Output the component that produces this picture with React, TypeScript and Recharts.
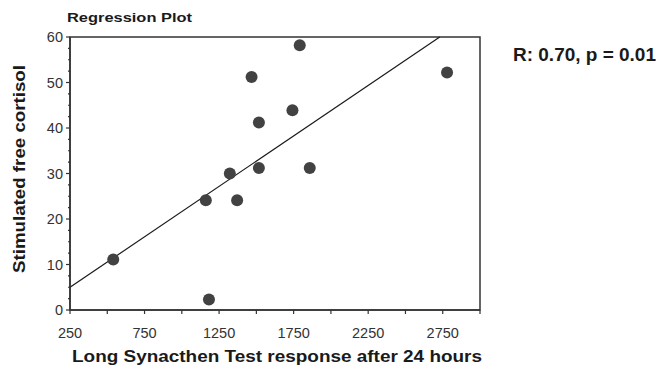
import { ScatterChart, Scatter, XAxis, YAxis, ReferenceLine, ReferenceArea } from 'recharts';

// Long Synacthen Test response (x) vs stimulated free cortisol (y)
const lstResponse = [540, 1182, 1161, 1371, 1322, 1517, 1517, 1468, 1742, 1791, 1858, 2779];
const freeCortisol = [11.1, 2.3, 24.1, 24.1, 30.0, 31.2, 41.2, 51.2, 43.9, 58.2, 31.2, 52.2];

// regression fit end points
const fitX = [250, 2730];
const fitY = [5, 60];

const xDomain = [250, 3000];
const yDomain = [0, 60];
const xTicks = [250, 500, 750, 1000, 1250, 1500, 1750, 2000, 2250, 2500, 2750, 3000];
const xLabelled = [250, 750, 1250, 1750, 2250, 2750];
const yTicks = [
  0, 2.5, 5, 7.5, 10, 12.5, 15, 17.5, 20, 22.5, 25, 27.5, 30,
  32.5, 35, 37.5, 40, 42.5, 45, 47.5, 50, 52.5, 55, 57.5, 60,
];

const points = lstResponse.map((x, i) => ({ x, y: freeCortisol[i] }));

const AXIS = '#333';
const FONT = '"Liberation Sans", Arial, sans-serif';

function XTick({ x, y, payload, side }: any) {
  const v = payload.value;
  const dir = side === 'top' ? -1 : 1;
  return (
    <g>
      <line x1={x} y1={y} x2={x} y2={y + dir * 4} stroke={AXIS} strokeWidth={1.2} />
      {side === 'bottom' && xLabelled.includes(v) && (
        <text x={x} y={y + 28} textAnchor="middle" fontSize={14.5} fill="#333" fontFamily={FONT}>
          {v}
        </text>
      )}
    </g>
  );
}

function YTick({ x, y, payload, side }: any) {
  const v = payload.value;
  const major = v % 10 === 0;
  const dir = side === 'left' ? -1 : 1;
  return (
    <g>
      <line x1={x} y1={y} x2={x + dir * (major ? 4 : 2)} y2={y} stroke={AXIS} strokeWidth={1.2} />
      {side === 'left' && major && (
        <text x={x - 7} y={y} dy="0.36em" textAnchor="end" fontSize={14.5} fill="#333" fontFamily={FONT}>
          {v}
        </text>
      )}
    </g>
  );
}

export default function App() {
  const axisLine = { stroke: AXIS, strokeWidth: 1.5 };
  return (
    <div style={{ position: 'absolute', left: 0, top: 0, width: 656, height: 369, background: '#fff' }}>
      <ScatterChart width={656} height={369} margin={{ top: 37, right: 176, bottom: 0, left: 0 }}>
        <XAxis
          xAxisId="b"
          type="number"
          dataKey="x"
          domain={xDomain}
          ticks={xTicks}
          orientation="bottom"
          height={59}
          stroke={AXIS}
          tickLine={false}
          tickSize={0}
          tickMargin={0}
          axisLine={axisLine}
          tick={<XTick side="bottom" />}
          interval={0}
        />
        <XAxis
          xAxisId="t"
          type="number"
          domain={xDomain}
          ticks={xTicks}
          orientation="top"
          height={0}
          stroke={AXIS}
          tickLine={false}
          tickSize={0}
          tickMargin={0}
          axisLine={axisLine}
          tick={<XTick side="top" />}
          interval={0}
        />
        <YAxis
          yAxisId="l"
          type="number"
          dataKey="y"
          domain={yDomain}
          ticks={yTicks}
          width={70}
          stroke={AXIS}
          tickLine={false}
          tickSize={0}
          tickMargin={0}
          axisLine={axisLine}
          tick={<YTick side="left" />}
          interval={0}
        />
        <YAxis
          yAxisId="r"
          type="number"
          orientation="right"
          domain={yDomain}
          ticks={yTicks}
          width={0}
          stroke={AXIS}
          tickLine={false}
          tickSize={0}
          tickMargin={0}
          axisLine={axisLine}
          tick={<YTick side="right" />}
          interval={0}
        />
        {/* plot frame */}
        <ReferenceArea
          xAxisId="b"
          yAxisId="l"
          x1={xDomain[0]}
          x2={xDomain[1]}
          y1={yDomain[0]}
          y2={yDomain[1]}
          fill="none"
          fillOpacity={0}
          stroke={AXIS}
          strokeWidth={1.5}
          ifOverflow="visible"
        />
        <ReferenceLine
          xAxisId="b"
          yAxisId="l"
          segment={[
            { x: fitX[0], y: fitY[0] },
            { x: fitX[1], y: fitY[1] },
          ]}
          stroke="#1a1a1a"
          strokeWidth={1.2}
        />
        <Scatter
          xAxisId="b"
          yAxisId="l"
          data={points}
          isAnimationActive={false}
          shape={(p: any) => <circle cx={p.cx} cy={p.cy} r={6} fill="#424242" />}
        />
      </ScatterChart>
      <svg width={656} height={369} style={{ position: 'absolute', left: 0, top: 0, pointerEvents: 'none' }}>
        <g fontFamily={FONT} fontWeight="bold" fill="#1a1a1a">
          <text x={67} y={22} fontSize={13} textLength={125} lengthAdjust="spacingAndGlyphs">
            Regression Plot
          </text>
          <text x={513} y={61} fontSize={17.5} textLength={143} lengthAdjust="spacingAndGlyphs">
            R: 0.70, p = 0.01
          </text>
          <text x={72} y={362} fontSize={16.5} textLength={410} lengthAdjust="spacingAndGlyphs">
            Long Synacthen Test response after 24 hours
          </text>
          <text
            x={25}
            y={169}
            fontSize={16.5}
            textAnchor="middle"
            textLength={208}
            lengthAdjust="spacingAndGlyphs"
            transform="rotate(-90 25 169)"
          >
            Stimulated free cortisol
          </text>
        </g>
      </svg>
    </div>
  );
}
